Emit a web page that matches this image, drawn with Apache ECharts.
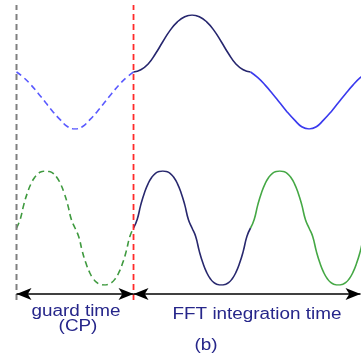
<!DOCTYPE html>
<html>
<head>
<meta charset="utf-8">
<script src="https://cdn.jsdelivr.net/npm/echarts@6/dist/echarts.min.js"></script>
<style>
html, body { margin: 0; padding: 0; background: #fff; }
#main { width: 361px; height: 356px; }
</style>
</head>
<body>
<div id="main"></div>
<script>
// time axis: gray line = 0, red line (end of CP) = 1, one unit = half period of the top wave
// each wave segment is sampled at even steps starting at its x0
const topCp = {x0: 0, step: 0.0625,
    y: [0, -0.1, -0.23, -0.38, -0.54, -0.7, -0.84, -0.96, -1, -0.96, -0.84, -0.7, -0.54, -0.38, -0.23, -0.1, 0]};
const topNavy = {x0: 1, step: 0.0625,
    y: [0, 0.04, 0.14, 0.32, 0.53, 0.73, 0.88, 0.97, 1, 0.97, 0.88, 0.73, 0.53, 0.32, 0.14, 0.04, 0]};
const topBlue = {x0: 2, step: 0.0625,
    y: [0, -0.1, -0.23, -0.38, -0.54, -0.7, -0.84, -0.96, -1, -0.96, -0.84, -0.7, -0.54, -0.38, -0.23, -0.1, 0]};

const botCp = {x0: 0, step: 0.03125,
    y: [0, 0.15, 0.41, 0.62, 0.78, 0.89, 0.96, 0.99, 1, 0.99, 0.96, 0.89, 0.78, 0.62, 0.41, 0.15, 0,
        -0.15, -0.41, -0.62, -0.78, -0.89, -0.96, -0.99, -1, -0.99, -0.96, -0.89, -0.78, -0.62, -0.41, -0.15, 0]};
const botNavy = {x0: 1, step: 0.03125,
    y: [0, 0.15, 0.41, 0.62, 0.78, 0.89, 0.96, 0.99, 1, 0.99, 0.96, 0.89, 0.78, 0.62, 0.41, 0.15, 0,
        -0.15, -0.41, -0.62, -0.78, -0.89, -0.96, -0.99, -1, -0.99, -0.96, -0.89, -0.78, -0.62, -0.41, -0.15, 0]};
const botGreen = {x0: 2, step: 0.03125,
    y: [0, 0.15, 0.41, 0.62, 0.78, 0.89, 0.96, 0.99, 1, 0.99, 0.96, 0.89, 0.78, 0.62, 0.41, 0.15, 0,
        -0.15, -0.41, -0.62, -0.78, -0.89, -0.96, -0.99, -1, -0.99, -0.96, -0.89, -0.78, -0.62, -0.41, -0.15, 0]};

const markerX = [0, 1];          // gray line, red line
const arrowEnds = [0, 1, 2.94];  // guard time | FFT integration time
const arrowY = 0.02;

const labels = ['guard time', '(CP)', 'FFT integration time', '(b)'];

function pts(seg) {
    return seg.y.map((v, i) => [seg.x0 + i * seg.step, v]);
}

const xMax = 2.944;
const xAxes = [0, 1, 2].map(i => ({
    type: 'value', gridIndex: i, min: 0, max: xMax, show: false
}));
const yAxes = [
    {type: 'value', gridIndex: 0, min: -1, max: 1, show: false},
    {type: 'value', gridIndex: 1, min: -1, max: 1, show: false},
    {type: 'value', gridIndex: 2, min: 0, max: 1, show: false}
];

function wave(grid, seg, color, dashed) {
    return {
        type: 'line', xAxisIndex: grid, yAxisIndex: grid,
        data: pts(seg), smooth: 0.5, symbol: 'none', silent: true,
        lineStyle: {color: color, width: 1.6, type: dashed ? [6, 4] : 'solid'}
    };
}

const series = [
    wave(0, topCp, '#5a5aff', true),
    wave(0, topNavy, '#26266e', false),
    wave(0, topBlue, '#3a3aee', false),
    wave(1, botCp, '#3f9a3f', true),
    wave(1, botNavy, '#28286e', false),
    wave(1, botGreen, '#45a845', false),
    {
        type: 'line', xAxisIndex: 2, yAxisIndex: 2, symbol: 'none', silent: true,
        data: [[markerX[0], 0], [markerX[0], 1]],
        lineStyle: {color: '#808080', width: 2, type: [6, 4]}
    },
    {
        type: 'line', xAxisIndex: 2, yAxisIndex: 2, symbol: 'none', silent: true,
        data: [[markerX[1], 0], [markerX[1], 1]],
        lineStyle: {color: '#ff2a2a', width: 1.8, type: [6, 4]},
        markLine: {
            silent: true,
            symbol: ['arrow', 'arrow'],
            symbolSize: [9, 15],
            label: {show: false},
            lineStyle: {color: '#000', width: 1.5, type: 'solid'},
            data: [
                [{coord: [arrowEnds[0], arrowY]}, {coord: [arrowEnds[1], arrowY]}],
                [{coord: [arrowEnds[1], arrowY]}, {coord: [arrowEnds[2], arrowY]}]
            ]
        }
    }
];

function label(text, x, y) {
    return {
        type: 'text', x: x, y: y, scaleX: 1.18, silent: true,
        style: {
            text: text, x: 0, y: 0,
            font: '16px "Liberation Sans", Arial, sans-serif',
            fill: '#26268a',
            align: 'center', verticalAlign: 'middle',
            textAlign: 'center', textVerticalAlign: 'middle'
        }
    };
}

let chart = echarts.init(document.getElementById('main'));
chart.setOption({
    animation: false,
    grid: [
        {left: 16.5, width: 344.5, top: 15, height: 114},
        {left: 16.5, width: 344.5, top: 171, height: 114},
        {left: 16.5, width: 344.5, top: 5, height: 295}
    ],
    xAxis: xAxes,
    yAxis: yAxes,
    series: series,
    graphic: [
        label(labels[0], 76, 312),
        label(labels[1], 78, 327),
        label(labels[2], 257, 315),
        label(labels[3], 206, 346)
    ]
});
</script>
</body>
</html>
